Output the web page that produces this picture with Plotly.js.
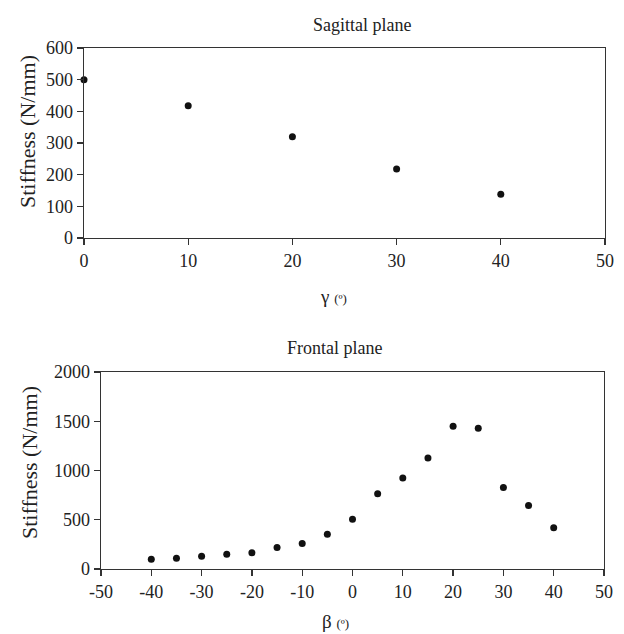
<!DOCTYPE html>
<html>
<head>
<meta charset="utf-8">
<script src="https://cdn.plot.ly/plotly-3.0.1.min.js"></script>
<style>html,body{margin:0;padding:0;background:#fff;}#chart{width:624px;height:634px;}</style>
</head>
<body>
<div id="chart"></div>
<script>
// Sagittal plane data
const gammaAngles = [0, 10, 20, 30, 40];
const sagittalStiffness = [500, 418, 320, 218, 138];

// Frontal plane data
const betaAngles = [-40, -35, -30, -25, -20, -15, -10, -5, 0, 5, 10, 15, 20, 25, 30, 35, 40];
const frontalStiffness = [99, 109, 130, 150, 164, 218, 259, 354, 504, 763, 924, 1128, 1449, 1428, 828, 644, 419];

const sagittalTicks = [0, 10, 20, 30, 40, 50];
const frontalTicks = [-50, -40, -30, -20, -10, 0, 10, 20, 30, 40, 50];
const frontalTickText = ['-50', '-40', '-30', '-20', '-10', '0', '10', '20', '30', '40', '50'];

const W = 624, H = 634;
const px = v => v / W;
const py = v => 1 - v / H;

const FONT = 'Liberation Serif, Times New Roman, serif';
const tickFont = {family: FONT, size: 18, color: '#222'};

const axisCommon = {
  showline: true, linecolor: '#333', linewidth: 1.3, mirror: true,
  ticks: 'outside', ticklen: 6, tickcolor: '#333', tickwidth: 1.3,
  showgrid: false, zeroline: false, tickfont: tickFont, fixedrange: true
};

const data = [
  {x: gammaAngles, y: sagittalStiffness, type: 'scatter', mode: 'markers',
   marker: {color: '#111', size: 7}, xaxis: 'x', yaxis: 'y', cliponaxis: false},
  {x: betaAngles, y: frontalStiffness, type: 'scatter', mode: 'markers',
   marker: {color: '#111', size: 7}, xaxis: 'x2', yaxis: 'y2', cliponaxis: false}
];

function ann(text, x, y, size, angle) {
  return {text: text, xref: 'paper', yref: 'paper', x: px(x), y: py(y),
    xanchor: 'center', yanchor: 'middle', textangle: angle || 0,
    showarrow: false, font: {family: FONT, size: size, color: '#222'}};
}

const layout = {
  width: W, height: H,
  margin: {l: 0, r: 0, t: 0, b: 0},
  paper_bgcolor: '#fff', plot_bgcolor: '#fff',
  showlegend: false,
  font: {family: FONT, color: '#222'},
  xaxis: Object.assign({}, axisCommon, {
    domain: [px(84), px(605)], range: [0, 50], tickvals: sagittalTicks, anchor: 'y'
  }),
  yaxis: Object.assign({}, axisCommon, {
    domain: [py(238), py(48)], range: [0, 600], dtick: 100, anchor: 'x'
  }),
  xaxis2: Object.assign({}, axisCommon, {
    domain: [px(101), px(604)], range: [-50, 50], tickvals: frontalTicks,
    ticktext: frontalTickText, anchor: 'y2'
  }),
  yaxis2: Object.assign({}, axisCommon, {
    domain: [py(569), py(372)], range: [0, 2000], dtick: 500, anchor: 'x2'
  }),
  annotations: [
    ann('Sagittal plane', 362, 25, 18),
    ann('Frontal plane', 334, 348, 18),
    ann('Stiffness (N/mm)', 27, 132, 22, -90),
    ann('Stiffness (N/mm)', 29, 463, 22, -90),
    ann('γ <span style="font-size:13px">(º)</span>', 333, 296, 19),
    ann('β <span style="font-size:13px">(º)</span>', 335, 621, 19)
  ]
};

Plotly.newPlot('chart', data, layout, {staticPlot: true, displayModeBar: false});
</script>
</body>
</html>
